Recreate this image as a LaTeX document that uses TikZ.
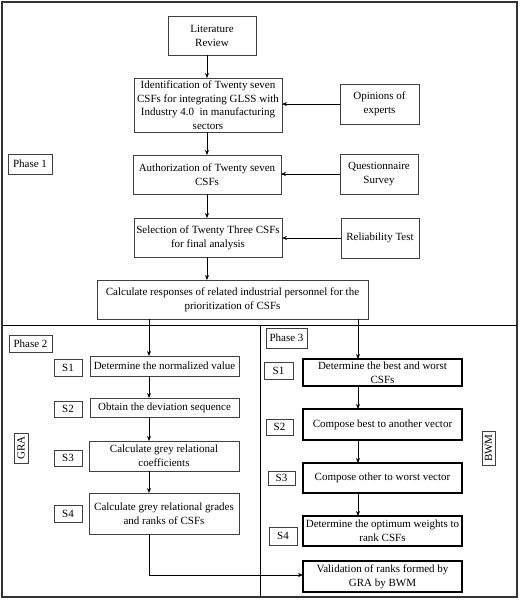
\documentclass[tikz,border=0pt]{standalone}
\usepackage{fontspec}
\setmainfont{Liberation Serif}
\usetikzlibrary{arrows.meta,calc}
\begin{document}
\begin{tikzpicture}[x=1pt,y=-1pt,
  every node/.style={font=\fontsize{11}{14}\selectfont},
  box/.style={draw=black!75, line width=0.6pt, align=center, inner sep=0pt, outer sep=0pt},
  bbox/.style={draw=black, line width=1.1pt, align=center, inner sep=0pt, outer sep=0pt},
  arr/.style={-{Stealth[length=5pt,width=4pt]}, line width=0.8pt, black},
  divider/.style={line width=0.9pt, black}]
\useasboundingbox (0,0) rectangle (520,600);
\draw[line width=1.6pt, black!80] (2,2) rectangle (517,597);
\draw[divider] (2,325) -- (517,325);
\draw[divider] (260,325) -- (260,597);
% phase 1
\node[box, minimum width=88, minimum height=39] (lit) at (212,35.5) {Literature\\Review};
\node[box, minimum width=148, minimum height=54, font=\fontsize{11}{13.6}\selectfont] (ident) at (208,105) {Identification of Twenty seven\\CSFs for integrating GLSS with\\Industry 4.0\ \ in manufacturing\\sectors};
\node[box, minimum width=79, minimum height=40] (opin) at (379.5,104) {Opinions of\\experts};
\node[box, minimum width=44, minimum height=20] (phase1) at (30,164) {Phase 1};
\node[box, minimum width=148, minimum height=39] (auth) at (207,174.5) {Authorization of Twenty seven\\CSFs};
\node[box, minimum width=78, minimum height=40] (quest) at (379,174) {Questionnaire\\Survey};
\node[box, minimum width=148, minimum height=39] (sel) at (208,237.5) {Selection of Twenty Three CSFs\\for final analysis};
\node[box, minimum width=78, minimum height=40] (rel) at (380,238) {Reliability Test};
\node[box, minimum width=271, minimum height=39] (calc) at (232.5,299.5) {Calculate responses of related industrial personnel for the\\prioritization of CSFs};
% phase 2
\node[box, minimum width=43, minimum height=17] (phase2) at (30.5,343.5) {Phase 2};
\node[box, minimum width=28, minimum height=17] (g1lab) at (68,367.5) {S1};
\node[box, minimum width=149, minimum height=20] (g1) at (164.5,366) {Determine the normalized value};
\node[box, minimum width=28, minimum height=16] (g2lab) at (68,409) {S2};
\node[box, minimum width=149, minimum height=19] (g2) at (164.5,407.5) {Obtain the deviation sequence};
\node[box, minimum width=28, minimum height=16] (g3lab) at (68,458) {S3};
\node[box, minimum width=150, minimum height=30] (g3) at (164,456) {Calculate grey relational\\coefficients};
\node[box, minimum width=28, minimum height=17] (g4lab) at (68,513.5) {S4};
\node[box, minimum width=150, minimum height=41] (g4) at (164,513.5) {Calculate grey relational grades\\and ranks of CSFs};
\node[box, minimum width=30, minimum height=14, rotate=90] (gra) at (21,448) {GRA};
% phase 3
\node[box, minimum width=41, minimum height=20] (phase3) at (286.5,338) {Phase 3};
\node[box, minimum width=29, minimum height=17] (b1lab) at (278.5,370.5) {S1};
\node[bbox, minimum width=159, minimum height=27] (b1) at (382.5,372.5) {Determine the best and worst\\CSFs};
\node[box, minimum width=27, minimum height=16] (b2lab) at (279.5,427) {S2};
\node[bbox, minimum width=159, minimum height=31] (b2) at (382.5,424.5) {Compose best to another vector};
\node[box, minimum width=27, minimum height=14] (b3lab) at (281.5,478) {S3};
\node[bbox, minimum width=159, minimum height=30] (b3) at (382.5,478) {Compose other to worst vector};
\node[box, minimum width=28, minimum height=18] (b4lab) at (283,536) {S4};
\node[bbox, minimum width=159, minimum height=30] (b4) at (382.5,531) {Determine the optimum weights to\\rank CSFs};
\node[box, minimum width=34, minimum height=13, rotate=90] (bwm) at (488.5,448) {BWM};
\node[bbox, minimum width=159, minimum height=31] (val) at (382.5,576.5) {Validation of ranks formed by\\GRA by BWM};
% columns
\coordinate (colL) at (149,0);
\coordinate (colR) at (358,0);
\coordinate (colM) at (207,0);
% arrows
\draw[arr] (lit.south -| colM) -- (ident.north -| colM);
\draw[arr] (ident.south -| colM) -- (auth.north -| colM);
\draw[arr] (auth.south -| colM) -- (sel.north -| colM);
\draw[arr] (sel.south -| colM) -- (calc.north -| colM);
\draw[arr] (opin.west) -- (opin.west -| ident.east);
\draw[arr] (quest.west) -- (quest.west -| auth.east);
\draw[arr] (rel.west) -- (rel.west -| sel.east);
\draw[arr] (calc.south -| colL) -- (g1.north -| colL);
\draw[arr] (g1.south -| colL) -- (g2.north -| colL);
\draw[arr] (g2.south -| colL) -- (g3.north -| colL);
\draw[arr] (g3.south -| colL) -- (g4.north -| colL);
\draw[arr] (g4.south -| colL) |- ([yshift=1.5pt]val.west);
\draw[arr] (calc.south -| colR) -- (b1.north -| colR);
\draw[arr] (b1.south -| colR) -- (b2.north -| colR);
\draw[arr] (b2.south -| colR) -- (b3.north -| colR);
\draw[arr] (b3.south -| colR) -- (b4.north -| colR);
\end{tikzpicture}
\end{document}
